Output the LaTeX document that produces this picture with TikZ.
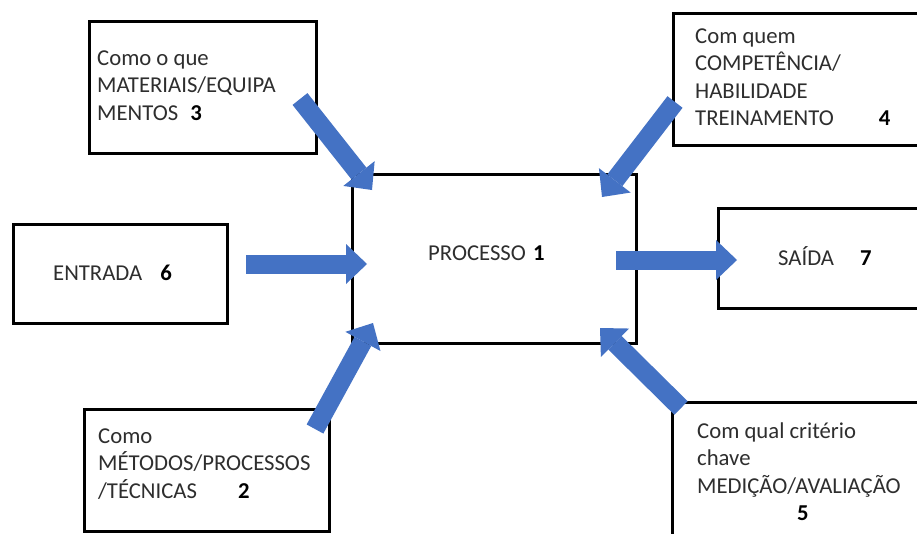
\documentclass[tikz,border=0pt]{standalone}
\usepackage{fontspec}
\setmainfont{Carlito}
\usetikzlibrary{arrows.meta}
\definecolor{arrowblue}{HTML}{4472C4}
\definecolor{txtgray}{HTML}{2E2E2E}
\begin{document}
\begin{tikzpicture}[x=1pt,y=-1pt,
  box/.style={draw=black, line width=2.6pt, inner sep=0pt, anchor=north west},
  lbl/.style={anchor=base west, inner sep=0pt, text=txtgray, font=\fontsize{22.7}{27.5}\selectfont},
  blockarrow/.style={draw=arrowblue, line width=19pt, -{Triangle[width=40pt,length=21pt,line width=0pt]}}
]
\clip (0,0) rectangle (917,533);
\fill[white] (0,0) rectangle (917,533);

% boxes
\node[box, minimum width=227pt, minimum height=132pt] (b3) at (88,20) {};
\node[box, minimum width=260pt, minimum height=132pt] (b4) at (672,12) {};
\node[box, minimum width=284pt, minimum height=169pt] (b1) at (351,173) {};
\node[box, minimum width=214pt, minimum height=99pt] (b6) at (12,223) {};
\node[box, minimum width=220pt, minimum height=100pt] (b7) at (717,207) {};
\node[box, minimum width=245pt, minimum height=122pt] (b2) at (83,408) {};
\node[box, minimum width=260pt, minimum height=150pt] (b5) at (671,401) {};

% labels
\node[lbl] (t3) at (97,65) {\begin{tabular}[t]{@{}l@{}}Como o que\\MATERIAIS/EQUIPA\\MENTOS\hspace{7pt} \textcolor{black}{\textbf{3}}\end{tabular}};
\node[lbl] (t4) at (695,43) {\begin{tabular}[t]{@{}l@{}}Com quem\\COMPETÊNCIA/\\HABILIDADE\\TREINAMENTO\hspace{40pt} \textcolor{black}{\textbf{4}}\end{tabular}};
\node[lbl] (t1) at (428,260) {PROCESSO\hspace{2pt} \textcolor{black}{\textbf{1}}};
\node[lbl] (t6) at (53,280) {ENTRADA\hspace{13pt} \textcolor{black}{\textbf{6}}};
\node[lbl] (t7) at (778,265) {SAÍDA\hspace{21pt} \textcolor{black}{\textbf{7}}};
\node[lbl] (t2) at (98,443) {\begin{tabular}[t]{@{}l@{}}Como\\MÉTODOS/PROCESSOS\\/TÉCNICAS\hspace{36pt} \textcolor{black}{\textbf{2}}\end{tabular}};
\node[lbl] (t5) at (697,438) {\begin{tabular}[t]{@{}l@{}}Com qual critério\\chave\\MEDIÇÃO/AVALIAÇÃO\\\hspace{100pt}\textcolor{black}{\textbf{5}}\end{tabular}};

% arrow end points
\coordinate (a3s) at (300,99);  \coordinate (a3e) at (372,190);
\coordinate (a4s) at (675,102); \coordinate (a4e) at (602,197);
\coordinate (a6s) at (246,264); \coordinate (a6e) at (367,264);
\coordinate (a7s) at (616,260); \coordinate (a7e) at (737,260);
\coordinate (a2s) at (315,429); \coordinate (a2e) at (373,323);
\coordinate (a5s) at (681,408); \coordinate (a5e) at (600,328);

\draw[blockarrow] (a3s) -- (a3e);
\draw[blockarrow] (a4s) -- (a4e);
\draw[blockarrow] (a6s) -- (a6e);
\draw[blockarrow] (a7s) -- (a7e);
\draw[blockarrow] (a2s) -- (a2e);
\draw[blockarrow] (a5s) -- (a5e);
\end{tikzpicture}
\end{document}
